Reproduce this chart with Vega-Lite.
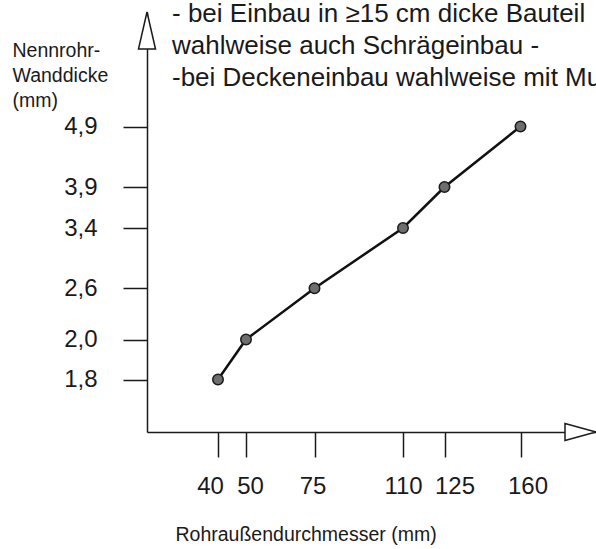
{
  "$schema": "https://vega.github.io/schema/vega-lite/v6.json",
  "width": 449,
  "height": 420,
  "autosize": {"type": "none"},
  "padding": {"left": 147, "top": 12, "right": 0, "bottom": 117},
  "background": "white",
  "title": {
    "text": ["- bei Einbau in ≥15 cm dicke Bauteil", "wahlweise auch Schrägeinbau -", "-bei Deckeneinbau wahlweise mit Mu"],
    "anchor": "start",
    "frame": "group",
    "orient": "top",
    "baseline": "top",
    "offset": -82,
    "dx": 25,
    "font": "Liberation Sans",
    "fontSize": 26,
    "fontWeight": "normal",
    "color": "#1a1a1a",
    "lineHeight": 32
  },
  "layer": [
    {
      "data": {
        "name": "werte",
        "values": [
          {"d": 40, "s": 1.8},
          {"d": 50, "s": 2.0},
          {"d": 75, "s": 2.6},
          {"d": 110, "s": 3.4},
          {"d": 125, "s": 3.9},
          {"d": 160, "s": 4.9}
        ]
      },
      "mark": {"type": "line", "color": "#111111", "strokeWidth": 2.5},
      "encoding": {
        "x": {
          "field": "d",
          "type": "quantitative",
          "scale": {
            "domain": [0, 40, 50, 75, 110, 125, 160, 200],
            "range": [0, 71, 99, 167.5, 256, 297.5, 373.5, 449],
            "zero": false,
            "nice": false
          },
          "axis": {
            "values": [40, 50, 75, 110, 125, 160],
            "format": "d",
            "grid": false,
            "tickSize": 25,
            "tickWidth": 1.5,
            "tickColor": "#1a1a1a",
            "domainColor": "#1a1a1a",
            "domainWidth": 1.5,
            "labelPadding": 36,
            "labelBaseline": "alphabetic",
            "labelOffset": {"expr": "datum.value == 40 ? -8 : datum.value == 50 ? 4 : datum.value == 75 ? -2 : datum.value == 125 ? 10 : datum.value == 160 ? 7 : 0"},
            "labelFont": "Liberation Sans",
            "labelFontSize": 24,
            "labelColor": "#1a1a1a",
            "labelFlush": false,
            "labelOverlap": false,
            "title": "Rohraußendurchmesser (mm)",
            "titleX": 28,
            "titleY": 108,
            "titleAlign": "left",
            "titleAnchor": "start",
            "titleBaseline": "alphabetic",
            "titleFont": "Liberation Sans",
            "titleFontSize": 19.5,
            "titleFontWeight": "normal",
            "titleColor": "#1a1a1a"
          }
        },
        "y": {
          "field": "s",
          "type": "quantitative",
          "scale": {
            "domain": [1.0, 1.8, 2.0, 2.6, 3.4, 3.9, 4.9, 6.0],
            "range": [420, 367.5, 327.5, 276.3, 216, 175, 114.5, 0],
            "zero": false,
            "nice": false
          },
          "axis": {
            "values": [1.8, 2.0, 2.6, 3.4, 3.9, 4.9],
            "labelExpr": "replace(format(datum.value, '.1f'), '.', ',')",
            "grid": false,
            "tickSize": 24,
            "tickWidth": 1.5,
            "tickColor": "#1a1a1a",
            "domainColor": "#1a1a1a",
            "domainWidth": 1.5,
            "labelPadding": 26,
            "labelFont": "Liberation Sans",
            "labelFontSize": 24,
            "labelColor": "#1a1a1a",
            "labelFlush": false,
            "labelOverlap": false,
            "title": ["Nennrohr-", "Wanddicke", "(mm)"],
            "titleAngle": 0,
            "titleX": -135,
            "titleY": 44,
            "titleAlign": "left",
            "titleAnchor": "start",
            "titleBaseline": "alphabetic",
            "titleFont": "Liberation Sans",
            "titleFontSize": 19.5,
            "titleFontWeight": "normal",
            "titleLineHeight": 25,
            "titleColor": "#1a1a1a"
          }
        }
      }
    },
    {
      "data": {"name": "werte"},
      "mark": {"type": "point", "filled": true, "fill": "#6e6e6e", "stroke": "#1a1a1a", "strokeWidth": 1.5, "size": 110, "opacity": 1},
      "encoding": {
        "x": {"field": "d", "type": "quantitative"},
        "y": {"field": "s", "type": "quantitative"}
      }
    },
    {
      "data": {"values": [{"pfeil": "y"}]},
      "mark": {"type": "point", "shape": "M0,0L0.46,2L-0.46,2Z", "size": 1369, "filled": true, "fill": "white", "stroke": "#1a1a1a", "strokeWidth": 1.5, "opacity": 1, "clip": false},
      "encoding": {
        "x": {"datum": 0, "type": "quantitative"},
        "y": {"datum": 6.0, "type": "quantitative"}
      }
    },
    {
      "data": {"values": [{"pfeil": "x"}]},
      "mark": {"type": "point", "shape": "M0,0L-2,-0.55L-2,0.55Z", "size": 961, "filled": true, "fill": "white", "stroke": "#1a1a1a", "strokeWidth": 1.5, "opacity": 1, "clip": false},
      "encoding": {
        "x": {"datum": 200, "type": "quantitative"},
        "y": {"datum": 1.0, "type": "quantitative"}
      }
    }
  ],
  "config": {
    "view": {"stroke": null},
    "font": "Liberation Sans"
  }
}
